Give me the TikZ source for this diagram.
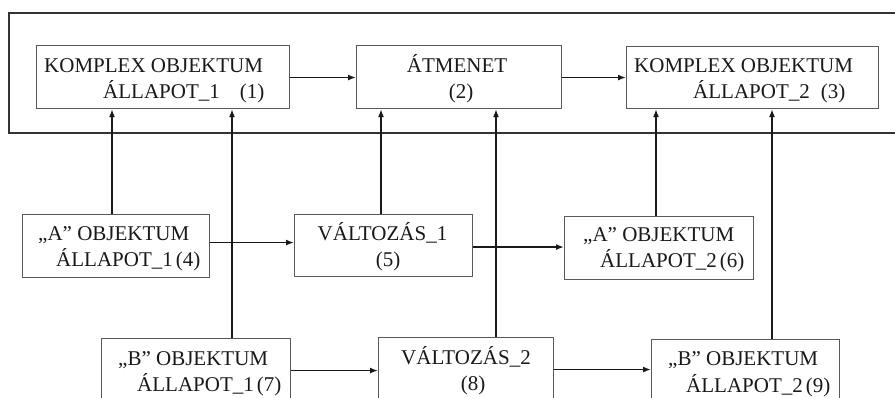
\documentclass[tikz,border=0pt]{standalone}
\usepackage{fontspec}
\setmainfont{Liberation Serif}
\usetikzlibrary{arrows.meta}
\begin{document}
\begin{tikzpicture}[x=1pt,y=-1pt,
  box/.style={draw=black!65,line width=1.1pt,rectangle,inner sep=0pt,anchor=north west},
  frame/.style={draw=black!80,line width=2.2pt},
  arr/.style={draw=black!90,line width=1.5pt,-{Latex[length=8pt,width=6pt]}},
  txt/.style={inner sep=0pt,anchor=base west,text=black!90,font=\fontsize{21}{26}\selectfont},
  ctxt/.style={txt,anchor=base}]
\clip (0,0) rectangle (895,398);
\fill[white] (0,0) rectangle (895,398);
% outer frame
\draw[frame] (9,13) rectangle (915,133);
% boxes
\node[box,minimum width=253pt,minimum height=63pt] (b1) at (36,45) {};
\node[box,minimum width=205pt,minimum height=63pt] (b2) at (356,45) {};
\node[box,minimum width=252pt,minimum height=62pt] (b3) at (626,46) {};
\node[box,minimum width=187pt,minimum height=63pt] (b4) at (22,214) {};
\node[box,minimum width=178pt,minimum height=62pt] (b5) at (294,214) {};
\node[box,minimum width=189pt,minimum height=63pt] (b6) at (564,216) {};
\node[box,minimum width=189pt,minimum height=90pt] (b7) at (101,338) {};
\node[box,minimum width=175pt,minimum height=90pt] (b8) at (378,337) {};
\node[box,minimum width=188pt,minimum height=90pt] (b9) at (651,339) {};
% texts
\node[txt] (t1a) at (44,73) {KOMPLEX OBJEKTUM};
\node[txt] (t1b) at (103,99) {ÁLLAPOT\_1\hspace{20pt}(1)};
\node[ctxt] (t2a) at (457,73) {ÁTMENET};
\node[ctxt] (t2b) at (461,99) {(2)};
\node[txt] (t3a) at (634,73) {KOMPLEX OBJEKTUM};
\node[txt] (t3b) at (693,99) {ÁLLAPOT\_2\hspace{11pt}(3)};
\node[txt] (t4a) at (38,241) {„A” OBJEKTUM};
\node[txt] (t4b) at (56,267) {ÁLLAPOT\_1\hspace{3pt}(4)};
\node[ctxt] (t5a) at (382.5,241) {VÁLTOZÁS\_1};
\node[ctxt] (t5b) at (388,267) {(5)};
\node[txt] (t6a) at (583,242) {„A” OBJEKTUM};
\node[txt] (t6b) at (600,268) {ÁLLAPOT\_2\hspace{3pt}(6)};
\node[txt] (t7a) at (118,365) {„B” OBJEKTUM};
\node[txt] (t7b) at (137,391) {ÁLLAPOT\_1\hspace{3pt}(7)};
\node[ctxt] (t8a) at (466,364) {VÁLTOZÁS\_2};
\node[ctxt] (t8b) at (473,390) {(8)};
\node[txt] (t9a) at (668,366) {„B” OBJEKTUM};
\node[txt] (t9b) at (686,392) {ÁLLAPOT\_2\hspace{3pt}(9)};
% x positions of vertical connectors
\coordinate (x1) at (112,0);
\coordinate (x2) at (232,0);
\coordinate (x3) at (381,0);
\coordinate (x4) at (496,0);
\coordinate (x5) at (656,0);
\coordinate (x6) at (772,0);
% horizontal connectors
\draw[arr] ([yshift=-0.5pt]b1.east) -- ([yshift=-0.5pt]b1.east -| b2.west);
\draw[arr] ([yshift=-0.5pt]b2.east) -- ([yshift=-0.5pt]b2.east -| b3.west);
\draw[arr] ([yshift=3.5pt]b4.east) -- ([yshift=3.5pt]b4.east -| b5.west);
\draw[arr] ([yshift=-1.5pt]b5.east) -- ([yshift=-1.5pt]b5.east -| b6.west);
\draw[arr] ([yshift=13pt]b7.east) -- ([yshift=13pt]b7.east -| b8.west);
\draw[arr] ([yshift=13pt]b8.east) -- ([yshift=13pt]b8.east -| b9.west);
% vertical connectors
\draw[arr] (b4.north -| x1) -- (b1.south -| x1);
\draw[arr] (b7.north -| x2) -- (b1.south -| x2);
\draw[arr] (b5.north -| x3) -- (b2.south -| x3);
\draw[arr] (b8.north -| x4) -- (b2.south -| x4);
\draw[arr] (b6.north -| x5) -- (b3.south -| x5);
\draw[arr] (b9.north -| x6) -- (b3.south -| x6);
\end{tikzpicture}
\end{document}
